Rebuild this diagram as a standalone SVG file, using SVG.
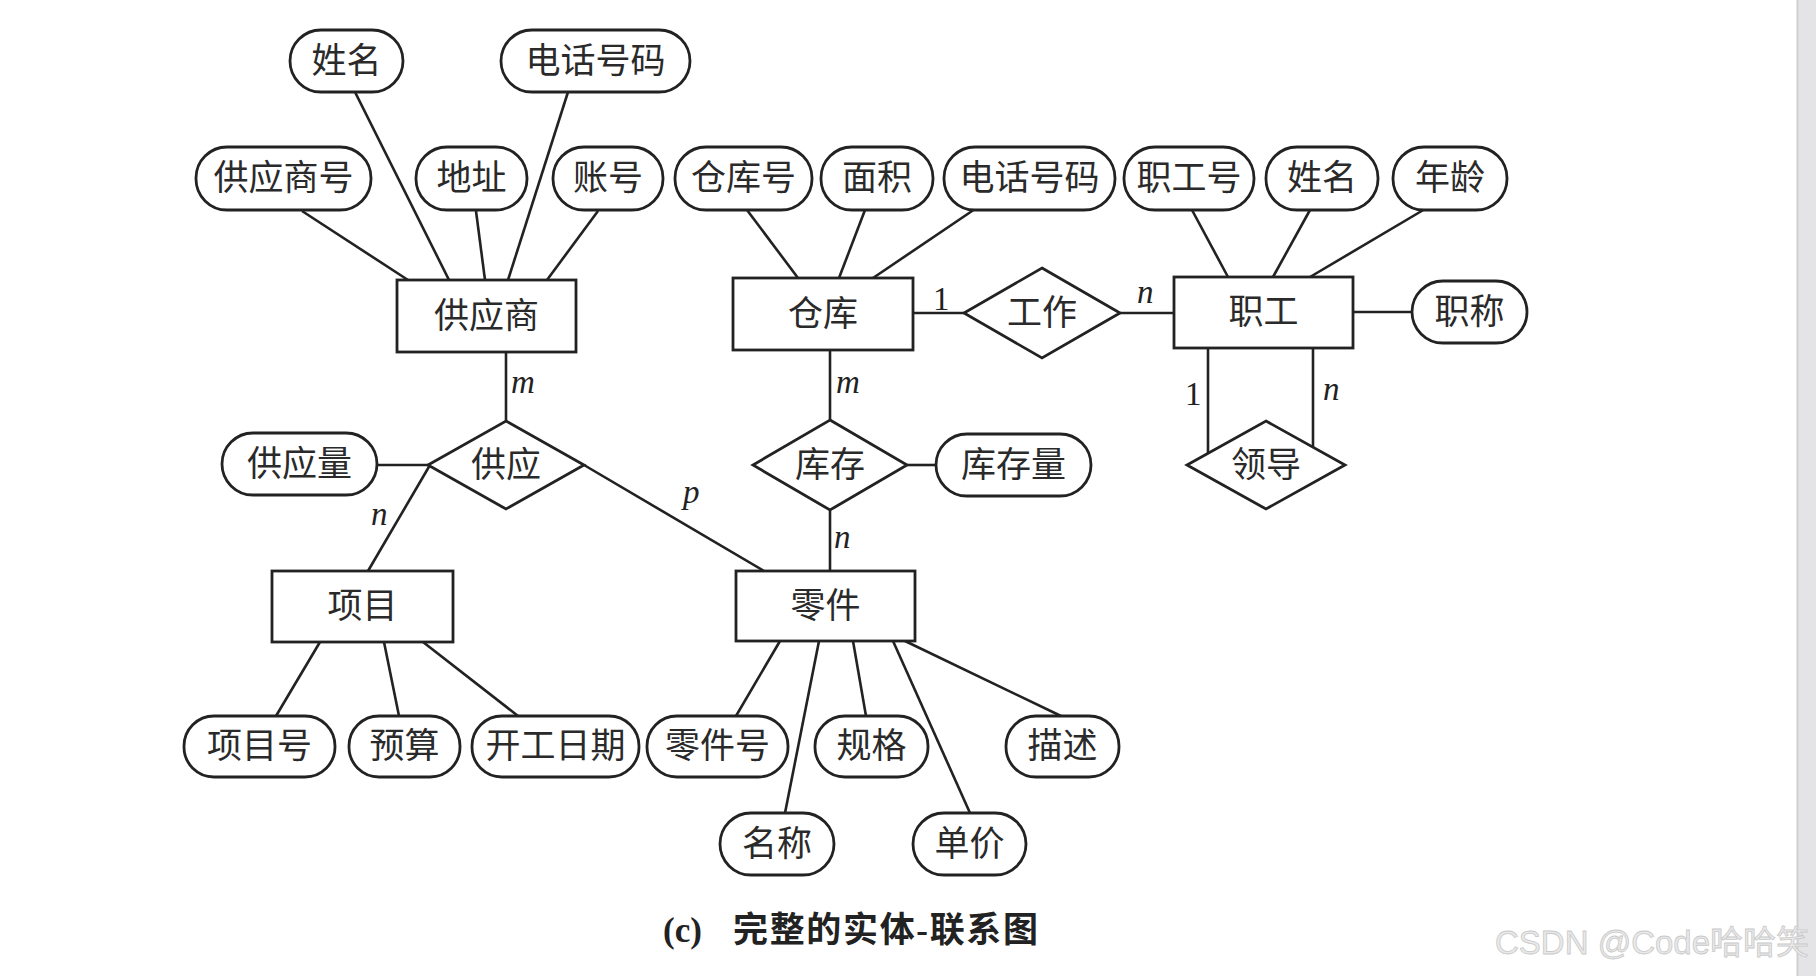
<svg xmlns="http://www.w3.org/2000/svg" width="1816" height="976" viewBox="0 0 1816 976">
<style>
.ln{stroke:#222;stroke-width:2.6;fill:none}
.ent{fill:#fff;stroke:#222;stroke-width:2.8}
.att{fill:#fff;stroke:#222;stroke-width:2.8}
.rel{fill:#fff;stroke:#222;stroke-width:2.8}
.t{font-family:"Liberation Serif","Noto Sans CJK SC",serif;font-size:35px;fill:#2a2a2a;text-anchor:middle;dominant-baseline:central}
.c{font-family:"Liberation Serif","Noto Sans CJK SC",serif;font-size:33px;font-style:italic;fill:#222}
.c1{font-family:"Liberation Serif","Noto Sans CJK SC",serif;font-size:33px;fill:#222}
.cap{font-family:"Liberation Serif","Noto Sans CJK SC",serif;font-size:35px;fill:#222;font-weight:bold}
.wm{font-family:"Liberation Sans","Noto Sans CJK SC",sans-serif;font-size:33px;fill:#e9e9e9;stroke:#c9c9c9;stroke-width:0.8}
</style>
<rect x="0" y="0" width="1816" height="976" fill="#fff"/>
<rect x="1797" y="0" width="19" height="976" fill="#e4e4e6"/>
<line x1="1797.5" y1="0" x2="1797.5" y2="976" stroke="#cfcfcf" stroke-width="2"/>

<g id="connectors">
  <line class="ln" x1="302" y1="211" x2="408" y2="280"/>
  <line class="ln" x1="355" y1="92" x2="449" y2="280"/>
  <line class="ln" x1="476" y1="211" x2="485" y2="280"/>
  <line class="ln" x1="568" y1="92" x2="508" y2="280"/>
  <line class="ln" x1="598" y1="211" x2="547" y2="280"/>
  <line class="ln" x1="747" y1="210" x2="798" y2="278"/>
  <line class="ln" x1="865" y1="210" x2="839" y2="278"/>
  <line class="ln" x1="975" y1="209" x2="873" y2="278"/>
  <line class="ln" x1="1192" y1="210" x2="1228" y2="277"/>
  <line class="ln" x1="1310" y1="210" x2="1273" y2="277"/>
  <line class="ln" x1="1425" y1="209" x2="1310" y2="277"/>
  <line class="ln" x1="1353" y1="312" x2="1412" y2="312"/>
  <line class="ln" x1="913" y1="313" x2="964" y2="313"/>
  <line class="ln" x1="1120" y1="313" x2="1174" y2="313"/>
  <line class="ln" x1="1208" y1="348" x2="1208" y2="453"/>
  <line class="ln" x1="1313" y1="348" x2="1313" y2="447"/>
  <line class="ln" x1="506" y1="352" x2="506" y2="421"/>
  <line class="ln" x1="377" y1="465" x2="430" y2="465"/>
  <line class="ln" x1="430" y1="465" x2="368" y2="571"/>
  <line class="ln" x1="584" y1="465" x2="764" y2="571"/>
  <line class="ln" x1="830" y1="350" x2="830" y2="420"/>
  <line class="ln" x1="907" y1="465" x2="936" y2="465"/>
  <line class="ln" x1="830" y1="510" x2="830" y2="571"/>
  <line class="ln" x1="320" y1="642" x2="276" y2="716"/>
  <line class="ln" x1="384" y1="642" x2="399" y2="716"/>
  <line class="ln" x1="423" y1="642" x2="518" y2="716"/>
  <line class="ln" x1="780" y1="641" x2="736" y2="716"/>
  <line class="ln" x1="819" y1="641" x2="785" y2="813"/>
  <line class="ln" x1="853" y1="641" x2="866" y2="716"/>
  <line class="ln" x1="893" y1="641" x2="970" y2="813"/>
  <line class="ln" x1="905" y1="641" x2="1061" y2="716"/>
  <text class="c" x="511" y="393">m</text>
  <text class="c" x="836" y="393">m</text>
  <text class="c" x="371" y="525">n</text>
  <text class="c" x="683" y="503">p</text>
  <text class="c" x="834" y="548">n</text>
  <text class="c1" x="933" y="310">1</text>
  <text class="c" x="1137" y="303">n</text>
  <text class="c1" x="1185" y="405">1</text>
  <text class="c" x="1323" y="400">n</text>
</g>

<g id="supplier"><rect class="ent" x="397" y="280" width="179" height="72"/><text class="t" x="486.5" y="316">供应商</text></g>
<g id="warehouse"><rect class="ent" x="733" y="278" width="180" height="72"/><text class="t" x="823" y="314">仓库</text></g>
<g id="employee"><rect class="ent" x="1174" y="277" width="179" height="71"/><text class="t" x="1263.5" y="312.5">职工</text></g>
<g id="project"><rect class="ent" x="272" y="571" width="181" height="71"/><text class="t" x="362.5" y="606.5">项目</text></g>
<g id="part"><rect class="ent" x="736" y="571" width="179" height="70"/><text class="t" x="825.5" y="606">零件</text></g>

<g id="rel-supply"><polygon class="rel" points="506,421 584,465 506,509 428,465"/><text class="t" x="506" y="465">供应</text></g>
<g id="rel-stock"><polygon class="rel" points="830,420 907,465 830,510 753,465"/><text class="t" x="830" y="465">库存</text></g>
<g id="rel-work"><polygon class="rel" points="1042,268 1120,313 1042,358 964,313"/><text class="t" x="1042" y="313">工作</text></g>
<g id="rel-lead"><polygon class="rel" points="1266,421 1345,465 1266,509 1187,465"/><text class="t" x="1266" y="465">领导</text></g>

<g id="att-s-name"><rect class="att" x="290" y="30" width="113" height="62" rx="31"/><text class="t" x="346.5" y="61">姓名</text></g>
<g id="att-s-phone"><rect class="att" x="501" y="30" width="189" height="62" rx="31"/><text class="t" x="595.5" y="61">电话号码</text></g>
<g id="att-s-no"><rect class="att" x="196" y="147" width="175" height="63" rx="31"/><text class="t" x="283.5" y="178.5">供应商号</text></g>
<g id="att-s-addr"><rect class="att" x="416" y="147" width="111" height="63" rx="31"/><text class="t" x="471.5" y="178.5">地址</text></g>
<g id="att-s-acct"><rect class="att" x="553" y="147" width="110" height="63" rx="31"/><text class="t" x="608" y="178.5">账号</text></g>
<g id="att-w-no"><rect class="att" x="675" y="147" width="137" height="63" rx="31"/><text class="t" x="743.5" y="178.5">仓库号</text></g>
<g id="att-w-area"><rect class="att" x="821" y="147" width="112" height="63" rx="31"/><text class="t" x="877" y="178.5">面积</text></g>
<g id="att-w-phone"><rect class="att" x="944" y="147" width="171" height="63" rx="31"/><text class="t" x="1029.5" y="178.5">电话号码</text></g>
<g id="att-e-no"><rect class="att" x="1124" y="147" width="130" height="63" rx="31"/><text class="t" x="1189" y="178.5">职工号</text></g>
<g id="att-e-name"><rect class="att" x="1266" y="147" width="112" height="63" rx="31"/><text class="t" x="1322" y="178.5">姓名</text></g>
<g id="att-e-age"><rect class="att" x="1393" y="147" width="114" height="63" rx="31"/><text class="t" x="1450" y="178.5">年龄</text></g>
<g id="att-e-title"><rect class="att" x="1412" y="281" width="115" height="62" rx="31"/><text class="t" x="1469.5" y="312">职称</text></g>
<g id="att-supply-qty"><rect class="att" x="222" y="433" width="155" height="62" rx="31"/><text class="t" x="299.5" y="464">供应量</text></g>
<g id="att-stock-qty"><rect class="att" x="936" y="434" width="155" height="62" rx="31"/><text class="t" x="1013.5" y="465">库存量</text></g>
<g id="att-p-no"><rect class="att" x="184" y="716" width="151" height="61" rx="30"/><text class="t" x="259.5" y="746.5">项目号</text></g>
<g id="att-p-budget"><rect class="att" x="349" y="716" width="111" height="61" rx="30"/><text class="t" x="404.5" y="746.5">预算</text></g>
<g id="att-p-date"><rect class="att" x="472" y="716" width="167" height="61" rx="30"/><text class="t" x="555.5" y="746.5">开工日期</text></g>
<g id="att-pt-no"><rect class="att" x="647" y="716" width="141" height="61" rx="30"/><text class="t" x="717.5" y="746.5">零件号</text></g>
<g id="att-pt-spec"><rect class="att" x="815" y="716" width="113" height="61" rx="30"/><text class="t" x="871.5" y="746.5">规格</text></g>
<g id="att-pt-desc"><rect class="att" x="1006" y="716" width="113" height="61" rx="30"/><text class="t" x="1062.5" y="746.5">描述</text></g>
<g id="att-pt-name"><rect class="att" x="720" y="813" width="114" height="62" rx="31"/><text class="t" x="777" y="844">名称</text></g>
<g id="att-pt-price"><rect class="att" x="913" y="813" width="113" height="62" rx="31"/><text class="t" x="969.5" y="844">单价</text></g>

<g id="caption">
  <text class="cap" x="663" y="942">(c)</text>
  <text class="cap" x="733" y="942" textLength="305" lengthAdjust="spacing">完整的实体-联系图</text>
</g>
<text class="wm" x="1495" y="954">CSDN @Code哈哈笑</text>
</svg>
